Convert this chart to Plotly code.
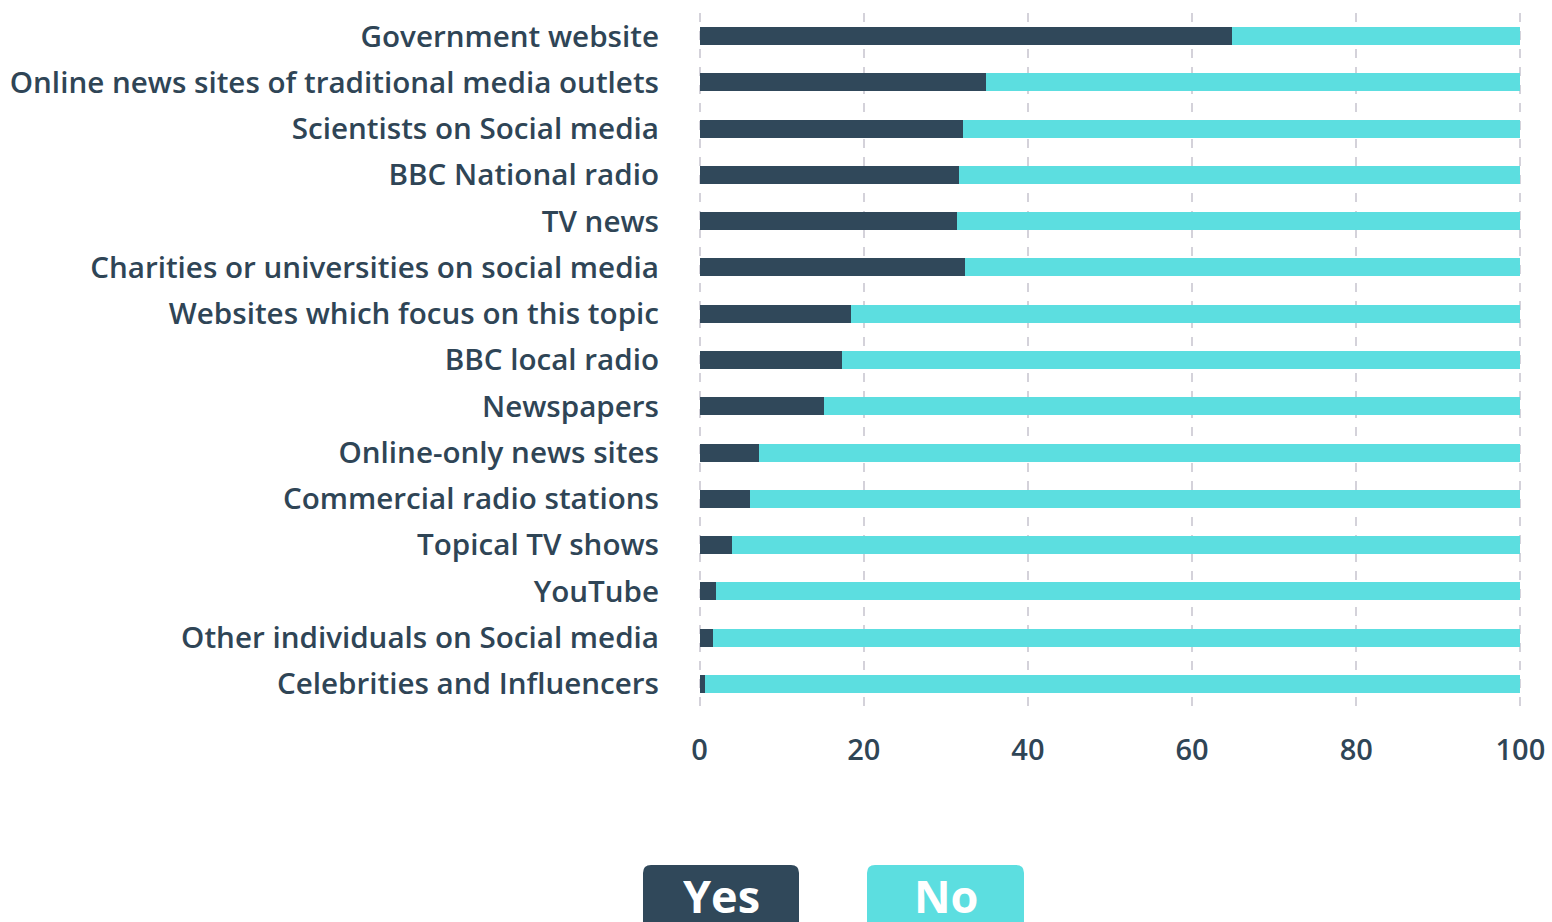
import plotly.graph_objects as go

# Survey sources and share answering Yes / No (percent)
sources = [
    "Government website",
    "Online news sites of traditional media outlets",
    "Scientists on Social media",
    "BBC National radio",
    "TV news",
    "Charities or universities on social media",
    "Websites which focus on this topic",
    "BBC local radio",
    "Newspapers",
    "Online-only news sites",
    "Commercial radio stations",
    "Topical TV shows",
    "YouTube",
    "Other individuals on Social media",
    "Celebrities and Influencers",
]
yes_pct = [64.9, 34.9, 32.1, 31.6, 31.4, 32.3, 18.4, 17.3, 15.2, 7.2, 6.1, 4.0, 2.0, 1.6, 0.7]
no_pct = [round(100 - v, 1) for v in yes_pct]
x_ticks = [0, 20, 40, 60, 80, 100]

DARK = "#30485a"
CYAN = "#5cdee0"
TEXT = "#2f4556"
FONT = "Open Sans"

W, H = 1552, 922
ML, MR, MT, MB = 698, 30, 12.5, 215

fig = go.Figure()
fig.add_trace(go.Bar(y=sources, x=yes_pct, name="Yes", orientation="h",
                     marker=dict(color=DARK, line=dict(width=0))))
fig.add_trace(go.Bar(y=sources, x=no_pct, name="No", orientation="h",
                     marker=dict(color=CYAN, line=dict(width=0))))

fig.update_layout(
    width=W, height=H,
    margin=dict(l=ML, r=MR, t=MT, b=MB, pad=0),
    barmode="stack", bargap=0.61,
    showlegend=False,
    plot_bgcolor="white", paper_bgcolor="white",
    font=dict(family=FONT, color=TEXT),
)
# small padding on the range so the 0 and 100 gridlines are drawn
fig.update_xaxes(
    range=[-0.2, 100.2], tickvals=x_ticks, ticktext=[str(t) for t in x_ticks],
    showgrid=True, gridcolor="#d4d2da", griddash="dash", gridwidth=2,
    zeroline=False, showline=False, automargin=False,
    ticks="outside", ticklen=17, tickcolor="rgba(0,0,0,0)",
    tickfont=dict(family=FONT, size=29, color=TEXT, weight=600),
)
fig.update_yaxes(
    categoryorder="array", categoryarray=sources, autorange="reversed",
    showgrid=False, zeroline=False, showline=False, automargin=False,
    ticks="", ticklabelstandoff=38,
    tickfont=dict(family=FONT, size=29.6, color=TEXT, weight=600),
)


def px_to_paper(xp, yp):
    pw = W - ML - MR
    ph = H - MT - MB
    return (xp - ML) / pw, 1 - (yp - MT) / ph


def rounded_box(x0, y0, x1, y1, r, color):
    # pixel box with rounded corners, converted to paper coordinates
    path = (f"M {x0 + r},{y0} L {x1 - r},{y0} Q {x1},{y0} {x1},{y0 + r} "
            f"L {x1},{y1 - r} Q {x1},{y1} {x1 - r},{y1} L {x0 + r},{y1} "
            f"Q {x0},{y1} {x0},{y1 - r} L {x0},{y0 + r} Q {x0},{y0} {x0 + r},{y0} Z")
    out = []
    for t in path.split():
        if "," in t:
            a, b = t.split(",")
            px, py = px_to_paper(float(a), float(b))
            out.append(f"{px:.5f},{py:.5f}")
        else:
            out.append(t)
    fig.add_shape(type="path", xref="paper", yref="paper", path=" ".join(out),
                  fillcolor=color, line=dict(width=0), layer="above")


legend_items = [("Yes", DARK, 643, 799), ("No", CYAN, 867, 1024)]
for label, color, bx0, bx1 in legend_items:
    rounded_box(bx0, 865, bx1, 935, 8, color)
    cx, cy = px_to_paper((bx0 + bx1) / 2, 895)
    fig.add_annotation(x=cx, y=cy, xref="paper", yref="paper", text=label,
                       showarrow=False, xanchor="center", yanchor="middle",
                       height=48, valign="middle",
                       font=dict(family=FONT, size=45, color="white", weight=700))

fig.write_html("out.html")
